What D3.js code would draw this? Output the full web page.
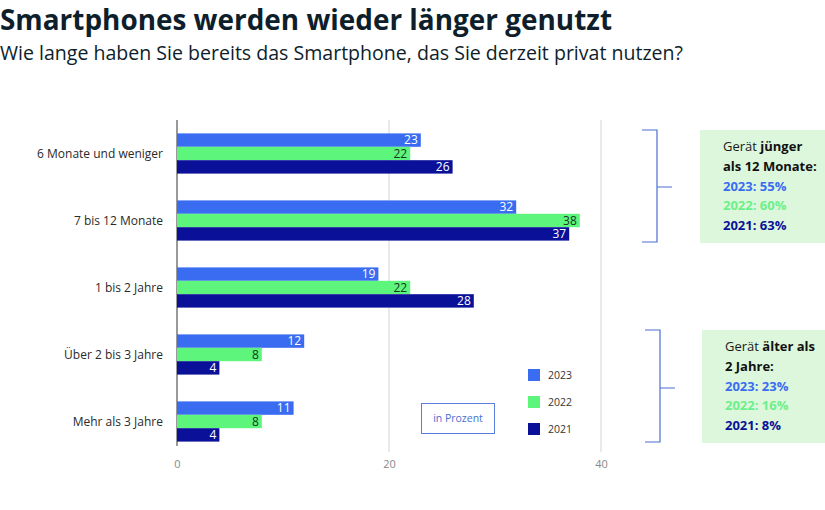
<!DOCTYPE html>
<html><head><meta charset="utf-8">
<script src="https://cdn.jsdelivr.net/npm/d3@7/dist/d3.min.js"></script>
<style>body{margin:0;background:#fff}svg{display:block}</style>
</head><body>
<script>
const categories = ["6 Monate und weniger","7 bis 12 Monate","1 bis 2 Jahre","Über 2 bis 3 Jahre","Mehr als 3 Jahre"];
const seriesNames = ["2023","2022","2021"];
const values2023 = [23,32,19,12,11];
const values2022 = [22,38,22,8,8];
const values2021 = [26,37,28,4,4];
const xTicks = [0,20,40];
const colors = ["#3a6cf2","#5ef57c","#0a1198"];
const labelColors = ["#ffffff","#17351f","#ffffff"];

const W=825,H=510;
const svg=d3.select("body").append("svg").attr("width",W).attr("height",H).style("font-family","'Open Sans',sans-serif");

svg.append("text").attr("x",0).attr("y",30).attr("font-size",28).attr("font-weight",700).attr("fill","#0e1e2a")
  .attr("textLength",612).attr("lengthAdjust","spacingAndGlyphs").text("Smartphones werden wieder länger genutzt");
svg.append("text").attr("x",0).attr("y",60).attr("font-size",20.5).attr("fill","#0e1e2a")
  .attr("textLength",683).attr("lengthAdjust","spacingAndGlyphs").text("Wie lange haben Sie bereits das Smartphone, das Sie derzeit privat nutzen?");

const x=d3.scaleLinear().domain([0,40]).range([177,601]);
const y=d3.scaleBand().domain(categories).range([120,455]).paddingInner(0.4).paddingOuter(0.2);
const sub=d3.scaleBand().domain(seriesNames).range([0,y.bandwidth()]);

// grid
svg.append("g").selectAll("line").data(xTicks.slice(1)).join("line")
 .attr("x1",d=>x(d)).attr("x2",d=>x(d)).attr("y1",120).attr("y2",452).attr("stroke","#d4d4d4").attr("stroke-width",1);
svg.append("line").attr("x1",x(0)).attr("x2",x(0)).attr("y1",120).attr("y2",446).attr("stroke","#555").attr("stroke-width",1.2);

const xAxis=svg.append("g").attr("transform","translate(0,452)").call(d3.axisBottom(x).tickValues(xTicks).tickSize(0).tickPadding(8));
xAxis.select(".domain").remove();
xAxis.selectAll("text").attr("font-size",11).attr("fill","#888").style("font-family","'Open Sans',sans-serif");

const seriesVals=[values2023,values2022,values2021];
categories.forEach((c,i)=>{
  seriesNames.forEach((s,j)=>{
    const v=seriesVals[j][i];
    const yy=y(c)+sub(s);
    svg.append("rect").attr("x",x(0)).attr("y",yy).attr("width",x(v)-x(0)).attr("height",sub.bandwidth()).attr("fill",colors[j]);
    svg.append("text").attr("x",x(v)-3).attr("y",yy+sub.bandwidth()/2).attr("dy","0.36em").attr("text-anchor","end")
      .attr("font-size",12).attr("fill",labelColors[j]).text(v);
  });
  svg.append("text").attr("x",163).attr("y",y(c)+y.bandwidth()/2).attr("dy","0.35em").attr("text-anchor","end")
   .attr("font-size",12).attr("fill","#2a2a2a").text(c);
});

// legend
seriesNames.forEach((s,j)=>{
  const ly=369+j*27;
  svg.append("rect").attr("x",528).attr("y",ly).attr("width",12).attr("height",12).attr("fill",colors[j]);
  svg.append("text").attr("x",548).attr("y",ly+6).attr("dy","0.35em").attr("font-size",10.5).attr("fill","#333").text(s);
});

// in Prozent box
svg.append("rect").attr("x",421.5).attr("y",403.5).attr("width",73).attr("height",30).attr("fill","none").attr("stroke","#5a7ddc").attr("stroke-width",1);
svg.append("text").attr("x",458).attr("y",418.5).attr("dy","0.35em").attr("text-anchor","middle").attr("font-size",10.5).attr("fill","#4a6fd0").text("in Prozent");

// brackets
function bracket(bx,y0,y1,mid){
  const g=svg.append("g").attr("stroke","#4a6fd0").attr("stroke-width",1.2).attr("fill","none");
  g.append("path").attr("d",`M${bx-15},${y0}H${bx}V${y1}H${bx-15}M${bx},${mid}H${bx+15}`);
}
bracket(657,130,242,187);
bracket(660,330,442,388);

// annotation boxes
const annot1=[["Gerät ","jünger"],["als 12 Monate:"],["2023: 55%"],["2022: 60%"],["2021: 63%"]];
const annot2=[["Gerät ","älter als"],["2 Jahre:"],["2023: 23%"],["2022: 16%"],["2021: 8%"]];
function annot(bx,by,lines){
  svg.append("rect").attr("x",bx).attr("y",by).attr("width",W-bx).attr("height",113).attr("fill","#dcf7dc");
  lines.forEach((l,k)=>{
    const t=svg.append("text").attr("x",bx+23).attr("y",by+21+k*19.8).attr("font-size",13).attr("font-weight",700);
    if(k===0){
      t.append("tspan").attr("font-weight",400).attr("fill","#1a1a1a").text(l[0]);
      t.append("tspan").attr("fill","#111").text(l[1]);
    } else if(k===1){ t.attr("fill","#111").text(l[0]); }
    else { t.attr("fill",[ "#3a6cf2","#6cf08a","#0a1198"][k-2]).text(l[0]); }
  });
}
annot(700,130,annot1);
annot(702,330,annot2);
</script>
</body></html>
